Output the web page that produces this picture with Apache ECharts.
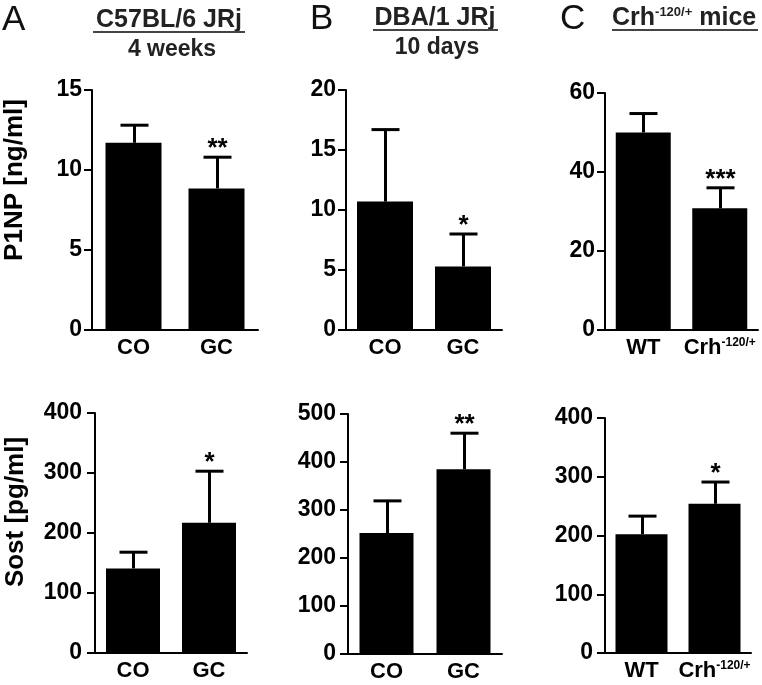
<!DOCTYPE html>
<html lang="en">
<head>
    <meta charset="UTF-8">
    <title>P1NP / Sost</title>
    <style>
        html, body { margin: 0; padding: 0; background: #fff; }
        #main { width: 762px; height: 685px; }
    </style>
</head>
<body>
<div id="main"></div>

<script src="https://cdn.jsdelivr.net/npm/echarts@6/dist/echarts.min.js"></script>
<script>
    // groups
    var groupsCOGC = ['CO', 'GC'];
    var groupsCrh = ['WT', 'Crh-120/+'];

    // P1NP [ng/ml], top row
    var p1npA = [11.7, 8.85];
    var p1npAErr = [1.1, 1.95];
    var p1npB = [10.7, 5.3];
    var p1npBErr = [6.0, 2.7];
    var p1npC = [50.0, 30.8];
    var p1npCErr = [4.8, 5.2];

    // Sost [pg/ml], bottom row
    var sostA = [141, 217];
    var sostAErr = [27, 86];
    var sostB = [252, 385];
    var sostBErr = [67, 75];
    var sostC = [202, 254];
    var sostCErr = [31, 37];

    // significance marks
    var starsP1npA = ['', '**'];
    var starsP1npB = ['', '*'];
    var starsP1npC = ['', '***'];
    var starsSostA = ['', '*'];
    var starsSostB = ['', '**'];
    var starsSostC = ['', '*'];

    // axis ticks
    var ticksP1npA = {max: 15, interval: 5};
    var ticksP1npB = {max: 20, interval: 5};
    var ticksP1npC = {max: 60, interval: 20};
    var ticksSostA = {max: 400, interval: 100};
    var ticksSostB = {max: 500, interval: 100};
    var ticksSostC = {max: 400, interval: 100};

    var FONT = "'Liberation Sans', Arial, Helvetica, sans-serif";

    var chartDom = document.getElementById('main');
    var myChart = echarts.init(chartDom, null, {renderer: 'canvas'});

    var panels = [
        {grid: {left: 92, top: 90, width: 166, height: 240}, cats: groupsCOGC, mean: p1npA, err: p1npAErr, stars: starsP1npA, ticks: ticksP1npA, barWidth: 56, margin: 10},
        {grid: {left: 346, top: 90, width: 156, height: 240}, cats: groupsCOGC, mean: p1npB, err: p1npBErr, stars: starsP1npB, ticks: ticksP1npB, barWidth: 56, margin: 10},
        {grid: {left: 605, top: 93, width: 153, height: 237}, cats: groupsCrh, mean: p1npC, err: p1npCErr, stars: starsP1npC, ticks: ticksP1npC, barWidth: 55, margin: 10},
        {grid: {left: 95, top: 413, width: 152, height: 240}, cats: groupsCOGC, mean: sostA, err: sostAErr, stars: starsSostA, ticks: ticksSostA, barWidth: 54, margin: 13},
        {grid: {left: 348, top: 414, width: 154, height: 240}, cats: groupsCOGC, mean: sostB, err: sostBErr, stars: starsSostB, ticks: ticksSostB, barWidth: 54, margin: 12},
        {grid: {left: 605, top: 418, width: 146, height: 235}, cats: groupsCrh, mean: sostC, err: sostCErr, stars: starsSostC, ticks: ticksSostC, barWidth: 52, margin: 12}
    ];

    var grids = [], xAxes = [], yAxes = [], series = [];

    panels.forEach(function (p, i) {
        grids.push(Object.assign({outerBoundsMode: 'none', containLabel: false}, p.grid));
        xAxes.push({
            type: 'category',
            gridIndex: i,
            data: p.cats,
            axisLine: {lineStyle: {color: '#000', width: 2}},
            axisTick: {show: false},
            axisLabel: {
                interval: 0,
                hideOverlap: false,
                color: '#000', fontFamily: FONT, fontWeight: 'bold', fontSize: 22, margin: 7,
                formatter: function (v) {
                    if (v.indexOf('Crh') === 0) return '{b|Crh}{s|' + v.slice(3) + '}';
                    return v;
                },
                rich: {
                    b: {fontFamily: FONT, fontWeight: 'bold', fontSize: 22, color: '#000', verticalAlign: 'bottom'},
                    s: {fontFamily: FONT, fontWeight: 'bold', fontSize: 12, color: '#000', verticalAlign: 'top', padding: [0, 0, 10, 0]}
                }
            },
            splitLine: {show: false}
        });
        yAxes.push({
            type: 'value',
            gridIndex: i,
            min: 0,
            max: p.ticks.max,
            interval: p.ticks.interval,
            axisLine: {show: true, lineStyle: {color: '#000', width: 2}},
            axisTick: {show: true, length: 8, lineStyle: {color: '#000', width: 2}},
            axisLabel: {color: '#000', fontFamily: FONT, fontWeight: 'bold', fontSize: 23, margin: p.margin},
            splitLine: {show: false}
        });
        series.push({
            type: 'bar',
            xAxisIndex: i,
            yAxisIndex: i,
            data: p.mean,
            barWidth: p.barWidth,
            itemStyle: {color: '#000'},
            silent: true
        });
        var stars = p.stars;
        series.push({
            type: 'custom',
            xAxisIndex: i,
            yAxisIndex: i,
            data: p.mean.map(function (m, k) { return [k, m, p.err[k]]; }),
            silent: true,
            z: 3,
            renderItem: function (params, api) {
                var base = api.coord([api.value(0), api.value(1)]);
                var top = api.coord([api.value(0), api.value(1) + api.value(2)]);
                var x = Math.round(base[0]) + 0.5;
                var children = [
                    {type: 'line', shape: {x1: x, y1: base[1], x2: x, y2: top[1]}, style: {stroke: '#000', lineWidth: 3}},
                    {type: 'line', shape: {x1: x - 14, y1: top[1], x2: x + 14, y2: top[1]}, style: {stroke: '#000', lineWidth: 3}}
                ];
                var s = stars[params.dataIndex];
                if (s) {
                    children.push({
                        type: 'text',
                        x: x,
                        y: top[1] - 8,
                        style: {text: s, fill: '#000', font: 'bold 26px ' + FONT, align: 'center', verticalAlign: 'middle'}
                    });
                }
                return {type: 'group', children: children};
            }
        });
    });

    function txt(x, y, text, font, extra) {
        return {
            type: 'text', x: x, y: y, silent: true,
            style: Object.assign({text: text, font: font, fill: '#000', align: 'center', verticalAlign: 'middle'}, extra || {})
        };
    }
    function uline(x1, x2, y) {
        return {type: 'line', silent: true, shape: {x1: x1, y1: y, x2: x2, y2: y}, style: {stroke: '#444', lineWidth: 2}};
    }

    var graphics = [
        // panel letters
        txt(2, 20, 'A', '35px ' + FONT, {align: 'left', fill: '#111'}),
        txt(310, 19, 'B', '35px ' + FONT, {align: 'left', fill: '#111'}),
        txt(560, 19, 'C', '35px ' + FONT, {align: 'left', fill: '#111'}),
        // headers
        txt(169, 20, 'C57BL/6 JRj', 'bold 25px ' + FONT, {fill: '#222'}),
        uline(93, 245, 32),
        txt(172, 50, '4 weeks', 'bold 23px ' + FONT, {fill: '#222'}),
        txt(435, 18, 'DBA/1 JRj', 'bold 25px ' + FONT, {fill: '#222'}),
        uline(373, 498, 30),
        txt(437, 48, '10 days', 'bold 23px ' + FONT, {fill: '#222'}),
        {
            type: 'text', x: 612, y: 18, silent: true,
            style: {
                text: '{a|Crh}{s|-120/+}{a| mice}', align: 'left', verticalAlign: 'middle',
                rich: {
                    a: {font: 'bold 25px ' + FONT, fill: '#222', verticalAlign: 'bottom'},
                    s: {font: 'bold 13px ' + FONT, fill: '#222', verticalAlign: 'top', padding: [0, 0, 12, 0]}
                }
            }
        },
        uline(612, 758, 30),
        // y-axis names
        txt(15, 180, 'P1NP [ng/ml]', 'bold 26px ' + FONT, {}),
        txt(16, 512, 'Sost [pg/ml]', 'bold 26px ' + FONT, {})
    ];
    graphics[graphics.length - 2].rotation = Math.PI / 2;
    graphics[graphics.length - 1].rotation = Math.PI / 2;

    var option = {
        backgroundColor: '#fff',
        animation: false,
        grid: grids,
        xAxis: xAxes,
        yAxis: yAxes,
        series: series,
        graphic: graphics
    };

    option && myChart.setOption(option);
</script>
</body>
</html>
